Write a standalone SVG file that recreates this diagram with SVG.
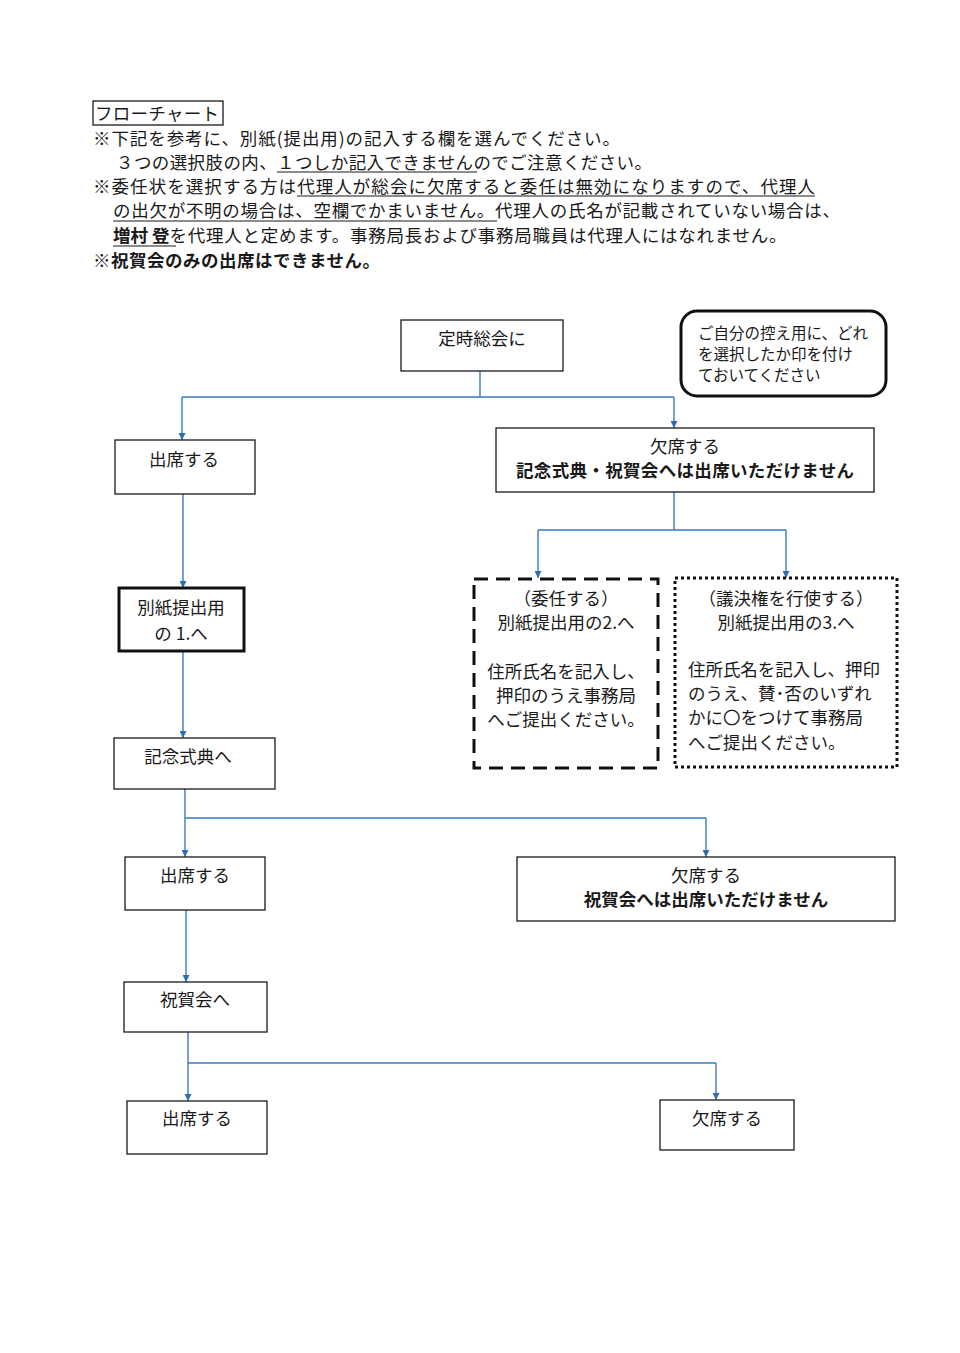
<svg xmlns="http://www.w3.org/2000/svg" width="960" height="1353" viewBox="0 0 960 1353">
<defs>
<marker id="arr" viewBox="0 0 10 10" refX="10" refY="5" markerWidth="7" markerHeight="7" markerUnits="userSpaceOnUse" orient="auto">
<path d="M0,0 L10,5 L0,10 z" fill="#2e6db4"/>
</marker>
<style>
text{font-family:"Noto Sans CJK JP","Noto Sans",sans-serif;fill:#1a1a1a}
.h{font-size:17.5px}
.b{font-weight:bold}
.n{font-size:17.5px}
.s{font-size:15.5px}
.c{text-anchor:middle}
.box{fill:#fff;stroke:#1a1a1a;stroke-width:1.3}
.thick{fill:#fff;stroke:#111;stroke-width:3}
.conn{fill:none;stroke:#3a7bbf;stroke-width:1.4}
.ul{stroke:#1a1a1a;stroke-width:1.2}
</style>
</defs>
<rect width="960" height="1353" fill="#fff"/>
<g id="header">
<rect x="93" y="101" width="130" height="24" fill="none" stroke="#1a1a1a" stroke-width="1.3"/>
<text x="95" y="120" class="h" textLength="124" lengthAdjust="spacing">フローチャート</text>
<text x="93" y="145" class="h" textLength="527" lengthAdjust="spacing">※下記を参考に、別紙(提出用)の記入する欄を選んでください。</text>
<text x="116" y="169" class="h" textLength="536" lengthAdjust="spacing">３つの選択肢の内、１つしか記入できませんのでご注意ください。</text>
<line x1="277" y1="172" x2="477" y2="172" class="ul"/>
<text x="93" y="193" class="h" textLength="722" lengthAdjust="spacing">※委任状を選択する方は代理人が総会に欠席すると委任は無効になりますので、代理人</text>
<line x1="297" y1="196" x2="815" y2="196" class="ul"/>
<text x="113" y="217" class="h" textLength="727" lengthAdjust="spacing">の出欠が不明の場合は、空欄でかまいません。代理人の氏名が記載されていない場合は、</text>
<line x1="113" y1="221" x2="497" y2="221" class="ul"/>
<text x="113" y="242" class="h"><tspan class="b">増村 登</tspan><tspan textLength="617" lengthAdjust="spacing">を代理人と定めます。事務局長および事務局職員は代理人にはなれません。</tspan></text>
<line x1="113" y1="246" x2="176" y2="246" class="ul" stroke-width="1.5"/>
<text x="93" y="267" class="h b" textLength="287" lengthAdjust="spacing">※祝賀会のみの出席はできません。</text>
</g>
<g id="connectors">
<path d="M480,371 V397 M182,397 H674" class="conn"/>
<path d="M182,397 V440" class="conn" marker-end="url(#arr)"/>
<path d="M674,397 V428" class="conn" marker-end="url(#arr)"/>
<path d="M674,492 V530 M538,530 H786" class="conn"/>
<path d="M538,530 V578" class="conn" marker-end="url(#arr)"/>
<path d="M786,530 V578" class="conn" marker-end="url(#arr)"/>
<path d="M183,494 V588" class="conn" marker-end="url(#arr)"/>
<path d="M183,651 V738" class="conn" marker-end="url(#arr)"/>
<path d="M185,789 V818 H706" class="conn"/>
<path d="M185,818 V857" class="conn" marker-end="url(#arr)"/>
<path d="M706,818 V857" class="conn" marker-end="url(#arr)"/>
<path d="M186,910 V982" class="conn" marker-end="url(#arr)"/>
<path d="M188,1032 V1063 H716" class="conn"/>
<path d="M188,1063 V1101" class="conn" marker-end="url(#arr)"/>
<path d="M716,1063 V1100" class="conn" marker-end="url(#arr)"/>
</g>
<g id="n-teiji">
<rect x="401" y="320" width="162" height="51" class="box"/>
<text x="482" y="345" class="n c">定時総会に</text>
</g>
<g id="n-note">
<rect x="681" y="311" width="205" height="85" rx="16" class="thick" stroke-width="2.6"/>
<text x="698" y="339" class="s">ご自分の控え用に、どれ</text>
<text x="698" y="360" class="s">を選択したか印を付け</text>
<text x="698" y="381" class="s">ておいてください</text>
</g>
<g id="n-attend1">
<rect x="115" y="440" width="140" height="54" class="box"/>
<text x="184" y="466" class="n c">出席する</text>
</g>
<g id="n-absent1">
<rect x="496" y="428" width="378" height="64" class="box"/>
<text x="685" y="453" class="n c">欠席する</text>
<text x="685" y="477" class="n c b" textLength="338" lengthAdjust="spacing">記念式典・祝賀会へは出席いただけません</text>
</g>
<g id="n-form1">
<rect x="119" y="588" width="125" height="63" class="thick"/>
<text x="181" y="614" class="n c">別紙提出用</text>
<text x="181" y="640" class="n c">の 1.へ</text>
</g>
<g id="n-proxy">
<rect x="474" y="579" width="184" height="189" fill="#fff" stroke="#111" stroke-width="3" stroke-dasharray="14,8"/>
<text x="566" y="605" class="n c">（委任する）</text>
<text x="566" y="629" class="n c">別紙提出用の2.へ</text>
<text x="566" y="678" class="n c">住所氏名を記入し、</text>
<text x="566" y="702" class="n c">押印のうえ事務局</text>
<text x="566" y="726" class="n c">へご提出ください。</text>
</g>
<g id="n-vote">
<rect x="675" y="578" width="222" height="189" fill="#fff" stroke="#111" stroke-width="3" stroke-dasharray="3,3"/>
<text x="786" y="605" class="n c">（議決権を行使する）</text>
<text x="786" y="629" class="n c">別紙提出用の3.へ</text>
<text x="688" y="676" class="n" textLength="192" lengthAdjust="spacing">住所氏名を記入し、押印</text>
<text x="688" y="700" class="n">のうえ、賛･否のいずれ</text>
<text x="688" y="724" class="n">かに〇をつけて事務局</text>
<text x="688" y="749" class="n">へご提出ください。</text>
</g>
<g id="n-ceremony">
<rect x="114" y="738" width="161" height="51" class="box"/>
<text x="188" y="763" class="n c">記念式典へ</text>
</g>
<g id="n-attend2">
<rect x="125" y="857" width="140" height="53" class="box"/>
<text x="195" y="882" class="n c">出席する</text>
</g>
<g id="n-absent2">
<rect x="517" y="857" width="378" height="64" class="box"/>
<text x="706" y="882" class="n c">欠席する</text>
<text x="706" y="906" class="n c b">祝賀会へは出席いただけません</text>
</g>
<g id="n-party">
<rect x="124" y="982" width="143" height="50" class="box"/>
<text x="195" y="1006" class="n c">祝賀会へ</text>
</g>
<g id="n-attend3">
<rect x="127" y="1101" width="140" height="53" class="box"/>
<text x="197" y="1125" class="n c">出席する</text>
</g>
<g id="n-absent3">
<rect x="660" y="1100" width="134" height="50" class="box"/>
<text x="727" y="1125" class="n c">欠席する</text>
</g>
</svg>
